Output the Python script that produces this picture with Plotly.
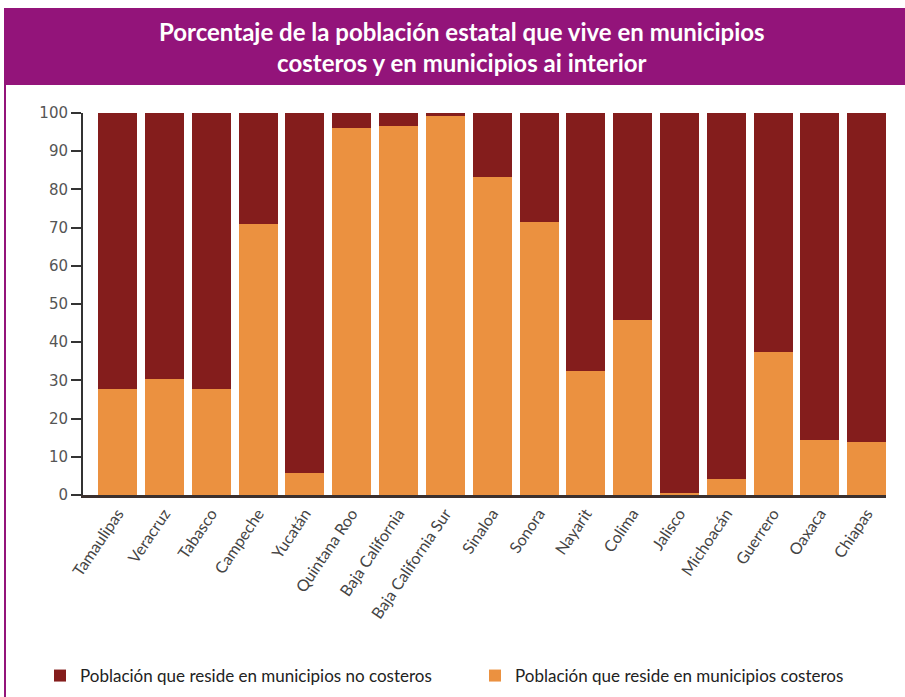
import plotly.graph_objects as go

states = ["Tamaulipas", "Veracruz", "Tabasco", "Campeche", "Yucatán", "Quintana Roo",
          "Baja California", "Baja California Sur", "Sinaloa", "Sonora", "Nayarit",
          "Colima", "Jalisco", "Michoacán", "Guerrero", "Oaxaca", "Chiapas"]
costeros = [27.8, 30.4, 27.8, 70.9, 5.8, 96.1, 96.6, 99.2, 83.2, 71.4, 32.5,
            45.7, 0.5, 4.2, 37.5, 14.4, 13.9]
no_costeros = [round(100 - v, 1) for v in costeros]

name_no = "Población que reside en municipios no costeros"
name_si = "Población que reside en municipios costeros"
title_text = ("Porcentaje de la población estatal que vive en municipios<br>"
              "costeros y en municipios ai interior")

DARK = "#841d1c"
ORANGE = "#eb9140"
PURPLE = "#93147a"

W, H = 905, 697
L, R, T, B = 83, 19, 113, 202
pw, ph = W - L - R, H - T - B

def px(x):
    return (x - L) / pw

def py(y):
    return (H - B - y) / ph

fig = go.Figure()
fig.add_trace(go.Bar(x=states, y=costeros, name=name_si, marker_color=ORANGE,
                     marker_line_width=0, legend="legend2"))
fig.add_trace(go.Bar(x=states, y=no_costeros, name=name_no, marker_color=DARK,
                     marker_line_width=0, legend="legend"))

leg_common = dict(orientation="h", yanchor="middle", xanchor="left",
                  font=dict(size=17, color="#222", family="Lato, sans-serif"),
                  itemsizing="constant", bgcolor="rgba(0,0,0,0)")

fig.update_layout(
    width=W, height=H,
    margin=dict(l=L, r=R, t=T, b=B, pad=0, autoexpand=False),
    barmode="stack", bargap=0.167,
    paper_bgcolor="white", plot_bgcolor="white",
    font=dict(family="Lato, Open Sans, sans-serif", color="#333"),
    showlegend=True,
    legend=dict(x=px(40), y=py(676), **leg_common),
    legend2=dict(x=px(475), y=py(676), **leg_common),
    xaxis=dict(range=[-0.74, 16.41], showline=True, linecolor="#3b302e", linewidth=3,
               tickangle=-56, ticks="", showgrid=False, automargin=False,
               tickfont=dict(size=16, color="#444", family="Lato, sans-serif")),
    yaxis=dict(range=[0, 100], tickvals=list(range(0, 101, 10)), showline=True,
               linecolor="#333", linewidth=2, ticks="outside", ticklen=10, tickwidth=2,
               tickcolor="#333", showgrid=False, zeroline=False, automargin=False,
               tickfont=dict(size=15, color="#555", family="DejaVu Sans, sans-serif")),
    shapes=[
        dict(type="rect", xref="paper", yref="paper", x0=px(4), x1=px(905), y0=py(85), y1=py(8),
             fillcolor=PURPLE, line_width=0, layer="above"),
        dict(type="line", xref="paper", yref="paper", x0=px(5), x1=px(5), y0=py(85), y1=py(697),
             line=dict(color=PURPLE, width=2)),
    ],
    annotations=[
        dict(text="<b>" + title_text + "</b>", xref="paper", yref="paper",
             x=px(462), y=py(47), xanchor="center", yanchor="middle", showarrow=False,
             font=dict(size=24, color="white", family="Lato, sans-serif"), align="center"),
    ],
)

fig.write_html("out.html")
